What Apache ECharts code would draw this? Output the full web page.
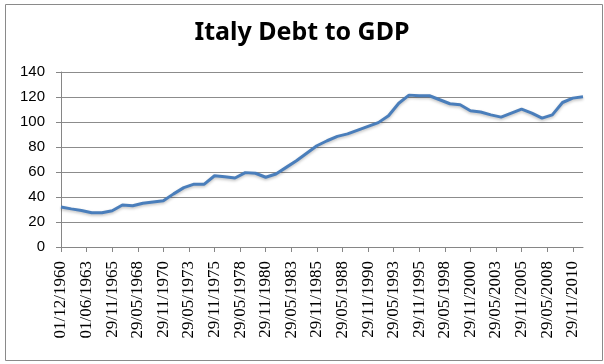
<!DOCTYPE html>
<html>
<head>
<meta charset="utf-8">
<script src="https://cdn.jsdelivr.net/npm/echarts@6/dist/echarts.min.js"></script>
<style>
html,body{margin:0;padding:0;background:#fff;}
#chart{width:604px;height:364px;}
</style>
</head>
<body>
<div id="chart"></div>
<script>
// Data (annual, December of each year)
var years = [1960,1961,1962,1963,1964,1965,1966,1967,1968,1969,
             1970,1971,1972,1973,1974,1975,1976,1977,1978,1979,
             1980,1981,1982,1983,1984,1985,1986,1987,1988,1989,
             1990,1991,1992,1993,1994,1995,1996,1997,1998,1999,
             2000,2001,2002,2003,2004,2005,2006,2007,2008,2009,
             2010,2011];
var debtToGdp = [32,30.5,29.2,27.4,27.4,29,33.6,33,35,36,
                 37,42.5,47.5,50.3,50.3,57,56.2,55.2,59.5,59,
                 55.8,58.4,63.7,69,75,81,85,88.5,90.5,93.5,
                 96.5,99.5,105,115,121.5,121,121,117.8,114.6,113.8,
                 109,108,105.7,103.9,107.1,110.3,107.1,103.1,105.7,115.6,
                 119.1,120.2];
// x-axis tick labels, one every 30 months from Dec 1960
var tickLabels = ['01/12/1960','01/06/1963','29/11/1965','29/05/1968','29/11/1970',
                  '29/05/1973','29/11/1975','29/05/1978','29/11/1980','29/05/1983',
                  '29/11/1985','29/05/1988','29/11/1990','29/05/1993','29/11/1995',
                  '29/05/1998','29/11/2000','29/05/2003','29/11/2005','29/05/2008',
                  '29/11/2010'];
var tickStepMonths = 30;
var startYear = 1960;

var seriesData = years.map(function (y, i) { return [(y - startYear) * 12, debtToGdp[i]]; });
var tickValues = tickLabels.map(function (_, i) { return i * tickStepMonths; });
var xMax = (years[years.length - 1] - startYear) * 12;

var chart = echarts.init(document.getElementById('chart'), null, {renderer: 'canvas'});
chart.setOption({
  animation: false,
  backgroundColor: '#ffffff',
  title: {
    text: 'Italy Debt to GDP',
    left: 'center',
    top: 20,
    padding: 0,
    textStyle: {fontFamily: 'Noto Sans', fontWeight: 'bold', fontSize: 25, color: '#000000'}
  },
  graphic: [{
    type: 'rect',
    left: 3, top: 2,
    shape: {width: 597, height: 356},
    style: {fill: 'none', stroke: '#8a8a8a', lineWidth: 1},
    silent: true
  }],
  grid: {left: 61, right: 21, top: 72, bottom: 117, containLabel: false},
  xAxis: {
    type: 'value',
    min: 0,
    max: xMax,
    splitLine: {show: false},
    axisLine: {show: true, onZero: false, lineStyle: {color: '#868686', width: 1}},
    axisTick: {show: true, length: 5, customValues: tickValues, lineStyle: {color: '#868686'}},
    axisLabel: {
      customValues: tickValues,
      rotate: 90,
      margin: 14,
      fontFamily: 'Liberation Serif',
      fontSize: 17,
      color: '#000000',
      formatter: function (v) {
        var idx = Math.round(v / tickStepMonths);
        return tickLabels[idx] || '';
      }
    }
  },
  yAxis: {
    type: 'value',
    min: 0,
    max: 140,
    interval: 20,
    axisLine: {show: true, lineStyle: {color: '#868686', width: 1}},
    axisTick: {show: true, length: 5, lineStyle: {color: '#868686'}},
    splitLine: {show: true, lineStyle: {color: '#8c8c8c', width: 1}},
    axisLabel: {margin: 16, fontFamily: 'Liberation Sans', fontSize: 15, color: '#000000'}
  },
  series: [{
    type: 'line',
    data: seriesData,
    showSymbol: false,
    symbol: 'none',
    lineStyle: {color: '#4a7ebb', width: 3, shadowColor: 'rgba(0,0,0,0.25)', shadowBlur: 3, shadowOffsetY: 1.5},
    z: 5
  }]
});
</script>
</body>
</html>
